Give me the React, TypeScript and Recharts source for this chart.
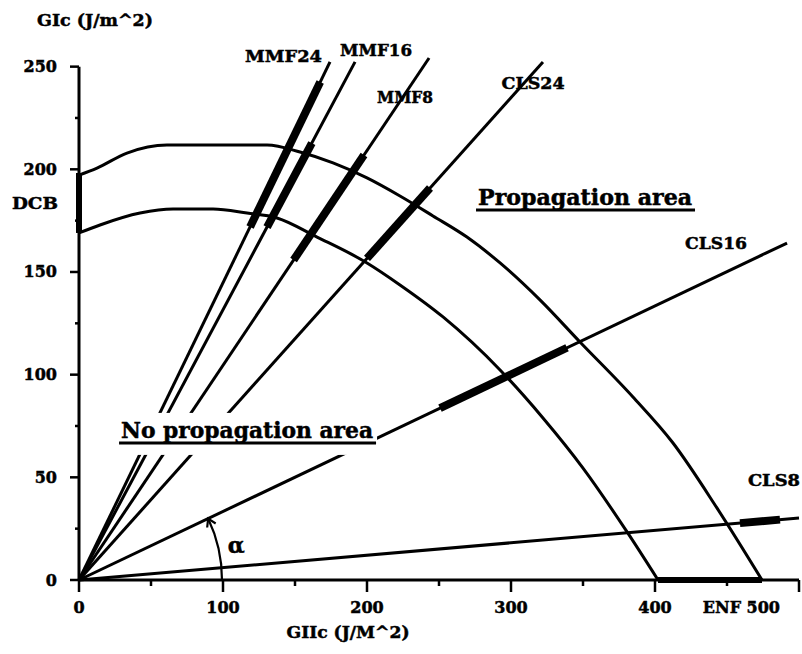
import { ComposedChart, Line, XAxis, YAxis, ReferenceDot, ReferenceLine } from 'recharts';

// failure envelopes (GIIc -> GIc)
const outerGIIc = [0, 12.5, 33.3, 61.1, 130.6, 153.5, 176.4, 200, 222.9, 245.8, 269.4, 292.4, 320.1, 347.9, 384.7, 412.5, 443, 474.3];
const outerGIc = [197.2, 200.6, 207.9, 211.8, 211.8, 208.4, 203.1, 195.8, 187, 177.3, 167, 154.4, 136.4, 115.9, 89.1, 66.7, 35.1, 0];
const innerGIIc = [0, 14.6, 42.4, 65.3, 93.1, 116.7, 137.5, 165.3, 200, 222.9, 252.8, 292.4, 322.2, 350, 380.6, 402.1];
const innerGIc = [169, 172.9, 178.7, 180.7, 180.7, 178.7, 176.3, 167, 154.4, 143.7, 128.1, 102.3, 78.9, 54.5, 23.4, 0];

// mode-mixity lines from the origin
const modeNames = ['MMF24', 'MMF16', 'MMF8', 'CLS24', 'CLS16', 'CLS8'];
const modeEndGIIc = [174.3, 191.7, 243.1, 322.2, 491.7, 500];
const modeEndGIc = [252.3, 252.3, 254.2, 252.3, 164.1, 30.2];

// measured ranges (thick parts)
const testFromGIIc = [118.8, 130.6, 149, 200, 250.7, 459];
const testFromGIc = [171.9, 171.9, 155.8, 156.6, 83.7, 27.7];
const testToGIIc = [167.5, 161.7, 197.9, 243.75, 338.9, 486.8];
const testToGIc = [242.5, 212.8, 207, 190.9, 113.1, 29.4];
const dcbGIc = [169, 198.2];
const enfGIIc = [402.1, 474.3];

// ticks
const xTicks = [0, 50, 100, 150, 200, 250, 300, 350, 400, 450, 500];
const xMajor = [0, 100, 200, 300, 400, 500];
const xMajorLabels = ['0', '100', '200', '300', '400', 'ENF 500'];
const yTicks = [0, 25, 50, 75, 100, 125, 150, 175, 200, 225, 250];
const yMajor = [0, 50, 100, 150, 200, 250];

const CHART_W = 802;
const CHART_H = 654;
const MARGIN = { top: 42, right: 3, bottom: 0, left: 0 };
const Y_AXIS_W = 79;
const X_AXIS_H = 74;
const X_MAX = 500;
const Y_MAX = 262;
const PLOT_W = CHART_W - MARGIN.left - MARGIN.right - Y_AXIS_W;
const PLOT_H = CHART_H - MARGIN.top - MARGIN.bottom - X_AXIS_H;
const FONT = '"DejaVu Serif", serif';

const pts = (xs: number[], ys: number[]) => xs.map((x, i) => ({ x, y: ys[i] }));

// annotation anchors, in data units
const tags = [
  { text: 'MMF24', x: 142, y: 255.2, len: 77 },
  { text: 'MMF16', x: 206.3, y: 258.1, len: 72 },
  { text: 'MMF8', x: 226.4, y: 235.2, len: 56 },
  { text: 'CLS24', x: 315.3, y: 242, len: 63 },
  { text: 'CLS16', x: 442.4, y: 164.1, len: 62 },
  { text: 'CLS8', x: 482.6, y: 48.7, len: 52 },
  { text: 'DCB', x: -30.6, y: 183.6, len: 46 },
];
const areas = [
  { text: 'Propagation area', x: 351.4, y: 182.6, len: 214, masked: false },
  { text: 'No propagation area', x: 116.7, y: 69.2, len: 252, masked: true },
];

const bold = { fontFamily: FONT, fontWeight: 'bold', fill: '#000', stroke: '#000', strokeWidth: 0.5 } as const;

const XTick = ({ x, y, payload }: any) => {
  const i = xMajor.indexOf(payload.value);
  const major = i >= 0;
  const last = payload.value === X_MAX;
  return (
    <g>
      <line x1={x} x2={x} y1={y} y2={y + (major ? 12 : 6)} stroke="#000" strokeWidth={2.5} />
      {major && (
        <text x={last ? x - 19 : x} y={y + 27} textAnchor={last ? 'end' : 'middle'} dominantBaseline="central" fontSize={16} {...bold}>
          {xMajorLabels[i]}
        </text>
      )}
    </g>
  );
};

const YTick = ({ x, y, payload }: any) => {
  const major = yMajor.includes(payload.value);
  return (
    <g>
      <line x1={x} x2={x - (major ? 9 : 4)} y1={y} y2={y} stroke="#000" strokeWidth={2.5} />
      {major && (
        <text x={x - 22} y={y} textAnchor="end" dominantBaseline="central" fontSize={16} {...bold}>
          {payload.value}
        </text>
      )}
    </g>
  );
};

const Tag = (text: string, len: number) => (p: any) => (
  <text
    x={p.cx}
    y={p.cy}
    textAnchor="middle"
    dominantBaseline="central"
    fontSize={17}
    textLength={len}
    lengthAdjust="spacingAndGlyphs"
    {...bold}
  >
    {text}
  </text>
);

const Area = (text: string, len: number, masked: boolean) => (p: any) => (
  <g>
    {masked && <rect x={p.cx - len / 2 - 6} y={p.cy - 25} width={len + 10} height={42} fill="#fff" />}
    <text x={p.cx} y={p.cy} textAnchor="middle" fontSize={22} textLength={len} lengthAdjust="spacingAndGlyphs" {...bold}>
      {text}
    </text>
    <line x1={p.cx - len / 2 - 2} x2={p.cx + len / 2 + 3} y1={p.cy + 5} y2={p.cy + 5} stroke="#000" strokeWidth={3} />
  </g>
);

// angle arc between GIIc axis and the CLS16 line
const AlphaArc = (p: any) => {
  const R = 143;
  const k = modeNames.indexOf('CLS16');
  const slopePx = ((modeEndGIc[k] / Y_MAX) * PLOT_H) / ((modeEndGIIc[k] / X_MAX) * PLOT_W);
  const th = Math.atan(slopePx);
  const tx = p.cx + R * Math.cos(th);
  const ty = p.cy - R * Math.sin(th);
  const bx = Math.sin(th);
  const by = Math.cos(th);
  const wing = (a: number) => {
    const c = Math.cos(a);
    const s = Math.sin(a);
    return `${tx + 9 * (bx * c - by * s)},${ty + 9 * (bx * s + by * c)}`;
  };
  return (
    <g fill="none" stroke="#000" strokeWidth={2.2}>
      <path d={`M${p.cx + R},${p.cy} A${R},${R} 0 0 0 ${tx},${ty}`} />
      <path d={`M${wing(0.55)} L${tx},${ty} L${wing(-0.55)}`} />
      <text x={tx + 28} y={ty + 26} textAnchor="middle" dominantBaseline="central" fontSize={22} {...bold}>
        α
      </text>
    </g>
  );
};

export default function App() {
  return (
    <div style={{ position: 'absolute', left: 0, top: 0, width: CHART_W, height: CHART_H, background: '#fff' }}>
      <ComposedChart width={CHART_W} height={CHART_H} margin={MARGIN}>
        <XAxis
          type="number"
          dataKey="x"
          domain={[0, X_MAX]}
          ticks={xTicks}
          interval={0}
          height={X_AXIS_H}
          tickSize={0}
          tickMargin={0}
          tickLine={false}
          axisLine={{ stroke: '#000', strokeWidth: 3 }}
          tick={<XTick />}
          label={{
            content: (p: any) => (
              <text
                x={p.viewBox.x + 269}
                y={p.viewBox.y + 52}
                textAnchor="middle"
                dominantBaseline="central"
                fontSize={17}
                textLength={123}
                lengthAdjust="spacingAndGlyphs"
                {...bold}
              >
                GIIc (J/M^2)
              </text>
            ),
          }}
        />
        <YAxis
          type="number"
          dataKey="y"
          domain={[0, Y_MAX]}
          ticks={yTicks}
          interval={0}
          width={Y_AXIS_W}
          tickSize={0}
          tickMargin={0}
          tickLine={false}
          axisLine={false}
          tick={<YTick />}
          label={{
            content: (p: any) => (
              <text
                x={p.viewBox.x + 95}
                y={p.viewBox.y - 22}
                textAnchor="middle"
                dominantBaseline="central"
                fontSize={17}
                textLength={116}
                lengthAdjust="spacingAndGlyphs"
                {...bold}
              >
                GIc (J/m^2)
              </text>
            ),
          }}
        />
        <ReferenceLine segment={[{ x: 0, y: 0 }, { x: 0, y: 250 }]} stroke="#000" strokeWidth={3} />

        <Line name="outer" data={pts(outerGIIc, outerGIc)} dataKey="y" type="monotone" stroke="#000" strokeWidth={3} dot={false} activeDot={false} isAnimationActive={false} />
        <Line name="inner" data={pts(innerGIIc, innerGIc)} dataKey="y" type="monotone" stroke="#000" strokeWidth={3} dot={false} activeDot={false} isAnimationActive={false} />

        {modeNames.map((m, i) => (
          <Line
            key={m}
            name={m}
            data={pts([0, modeEndGIIc[i]], [0, modeEndGIc[i]])}
            dataKey="y"
            type="linear"
            stroke="#000"
            strokeWidth={3}
            dot={false}
            activeDot={false}
            isAnimationActive={false}
          />
        ))}
        {modeNames.map((m, i) => (
          <Line
            key={m + '-test'}
            name={m + ' test'}
            data={pts([testFromGIIc[i], testToGIIc[i]], [testFromGIc[i], testToGIc[i]])}
            dataKey="y"
            type="linear"
            stroke="#000"
            strokeWidth={8}
            dot={false}
            activeDot={false}
            isAnimationActive={false}
          />
        ))}
        <Line name="DCB" data={pts([0, 0], dcbGIc)} dataKey="y" type="linear" stroke="#000" strokeWidth={6} dot={false} activeDot={false} isAnimationActive={false} />
        <Line name="ENF" data={pts(enfGIIc, [0, 0])} dataKey="y" type="linear" stroke="#000" strokeWidth={6} dot={false} activeDot={false} isAnimationActive={false} />

        <ReferenceDot x={0} y={0} r={0} ifOverflow="visible" shape={AlphaArc} />
        {tags.map((t) => (
          <ReferenceDot key={t.text} x={t.x} y={t.y} r={0} ifOverflow="visible" shape={Tag(t.text, t.len)} />
        ))}
        {areas.map((a) => (
          <ReferenceDot key={a.text} x={a.x} y={a.y} r={0} ifOverflow="visible" shape={Area(a.text, a.len, a.masked)} />
        ))}
      </ComposedChart>
    </div>
  );
}
